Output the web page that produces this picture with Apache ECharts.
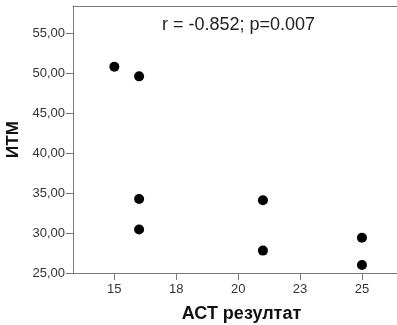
<!DOCTYPE html>
<html>
<head>
<meta charset="utf-8">
<script src="https://cdn.jsdelivr.net/npm/echarts@6/dist/echarts.min.js"></script>
<style>
  html, body { margin: 0; padding: 0; background: #fff; }
  #chart { width: 397px; height: 325px; }
</style>
</head>
<body>
<div id="chart"></div>
<script>
// АСТ score vs ИТМ (body mass index)
const actScores = [15, 16, 16, 16, 21, 21, 25, 25];
const bmiValues = [50.8, 49.6, 34.25, 30.45, 34.1, 27.8, 29.4, 26.0];

const xTickValues = [15, 17.5, 20, 22.5, 25];
const yTickValues = [25, 30, 35, 40, 45, 50, 55];

const statsText = 'r = -0.852; p=0.007';
const xTitle = 'АСТ резултат';
const yTitle = 'ИТМ';

const axisGray = '#7a7a7a';
const fontFamily = 'Liberation Sans, Arial, sans-serif';
const labelFont = { fontFamily: fontFamily, fontSize: 13, color: '#333' };

const chart = echarts.init(document.getElementById('chart'), null, { renderer: 'canvas' });

chart.setOption({
  animation: false,
  backgroundColor: '#fff',
  // the plot frame runs on past the right edge of the canvas
  grid: { left: 73, top: 6, right: -13, bottom: 52, containLabel: false, outerBoundsMode: 'none' },
  title: {
    text: statsText,
    left: 157, top: 11,
    textStyle: { fontFamily: fontFamily, fontSize: 18, fontWeight: 'normal', color: '#222' }
  },
  xAxis: [{
    type: 'value',
    min: 13.33, max: 26.94,
    name: xTitle,
    nameLocation: 'middle',
    nameGap: 32,
    nameTextStyle: { fontFamily: fontFamily, fontSize: 18, fontWeight: 'bold', color: '#111' },
    axisLine: { show: true, onZero: false, lineStyle: { color: axisGray, width: 1 } },
    axisTick: { show: true, length: 7, customValues: xTickValues, lineStyle: { color: axisGray } },
    axisLabel: Object.assign({ customValues: xTickValues, margin: 10, formatter: v => String(Math.round(v)) }, labelFont),
    splitLine: { show: false }
  }, {
    type: 'value',
    position: 'top',
    min: 13.33, max: 26.94,
    axisLine: { show: true, onZero: false, lineStyle: { color: axisGray, width: 1 } },
    axisTick: { show: false },
    axisLabel: { show: false },
    splitLine: { show: false }
  }],
  yAxis: {
    type: 'value',
    min: 25, max: 58.4,
    name: yTitle,
    nameLocation: 'middle',
    nameGap: 51,
    nameTextStyle: { fontFamily: fontFamily, fontSize: 17, fontWeight: 'bold', color: '#111' },
    axisLine: { show: true, onZero: false, lineStyle: { color: axisGray, width: 1 } },
    axisTick: { show: true, length: 7, customValues: yTickValues, lineStyle: { color: axisGray } },
    axisLabel: Object.assign({ customValues: yTickValues, margin: 8, formatter: v => v.toFixed(2).replace('.', ',') }, labelFont),
    splitLine: { show: false }
  },
  series: [{
    type: 'scatter',
    xAxisIndex: 0,
    symbol: 'circle',
    symbolSize: 10,
    itemStyle: { color: '#000', opacity: 1 },
    data: actScores.map((x, i) => [x, bmiValues[i]])
  }]
});
</script>
</body>
</html>
